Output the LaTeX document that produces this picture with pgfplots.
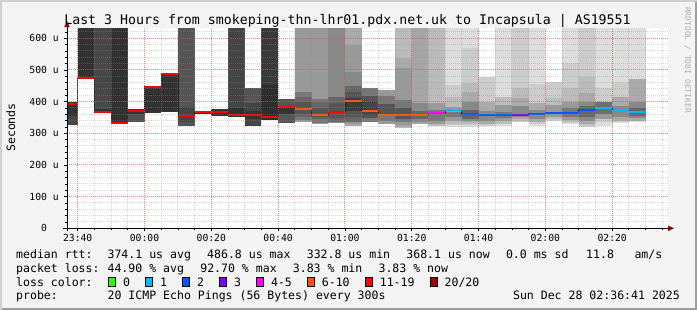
\documentclass[border=0pt]{standalone}
\usepackage{fontspec}
\setmainfont{DejaVu Sans Mono}
\usepackage{pgfplots}
\pgfplotsset{compat=1.18}
\definecolor{bgc}{RGB}{243,243,243}
\definecolor{shadea}{RGB}{207,207,207}
\definecolor{shadeb}{RGB}{158,158,158}
\definecolor{arrowc}{RGB}{140,10,10}
\definecolor{medc}{RGB}{32,32,32}
\definecolor{wmc}{RGB}{175,175,175}
\definecolor{gridc}{RGB}{143,143,143}
\definecolor{mgridc}{RGB}{222,80,80}
\definecolor{lA}{HTML}{26FF00}
\definecolor{lB}{HTML}{00B8FF}
\definecolor{lC}{HTML}{0059FF}
\definecolor{lD}{HTML}{7E00FF}
\definecolor{lE}{HTML}{FF00FF}
\definecolor{lF}{HTML}{FF5500}
\definecolor{lG}{HTML}{FF0000}
\definecolor{lH}{HTML}{A00000}
\newcommand\lf{\fontsize{11.54bp}{13bp}\selectfont}
\newcommand\tf{\fontsize{9.75bp}{11bp}\selectfont}
\newcommand\ttl{\fontsize{13.25bp}{15bp}\selectfont}
% smoke band: x0 x1 low high grey(0-255)
\newcommand\smk[5]{\addplot[fill={rgb,255:red,#5;green,#5;blue,#5},draw=none,forget plot] coordinates {(#1,#3) (#1,#4) (#2,#4) (#2,#3)};}
% median stripe: x0 x1 median colour
\newcommand\med[4]{\addplot[draw=#4,line width=2bp,forget plot] coordinates {(#1,#3) (#2,#3)};}
\begin{document}
\begin{tikzpicture}[x=1bp,y=1bp]
\fill[bgc] (0,0) rectangle (697,310);
\fill[shadea] (0,0) rectangle (2,310);
\fill[shadea] (0,308) rectangle (697,310);
\fill[shadeb] (695,0) rectangle (697,308);
\fill[shadeb] (2,0) rectangle (697,2);
\begin{axis}[
  at={(67bp,81.7bp)}, anchor=south west,
  scale only axis, width=601.3bp, height=200bp,
  xmin=-3.2, xmax=176.8, ymin=0, ymax=631.6,
  axis background/.style={fill=white},
  axis line style={draw=none},
  axis on top,
  tick pos=left, tick align=outside,
  major tick length=3bp, minor tick length=2bp,
  tick style={black, line width=0.8bp},
  xtick={0,20,...,160},
  xticklabels={23:40,00:00,00:20,00:40,01:00,01:20,01:40,02:00,02:20},
  minor xtick={0,5,...,175},
  ytick={0,100,...,600},
  yticklabels={0\phantom{0u},100 u,200 u,300 u,400 u,500 u,600 u},
  minor ytick={20,40,...,620},
  grid=both,
  major grid style={draw=mgridc, draw opacity=0.55, line width=1bp, dash pattern=on 1bp off 1bp},
  minor grid style={draw=gridc, draw opacity=0.35, line width=1bp, dash pattern=on 1bp off 1bp},
  ticklabel style={font=\tf, inner sep=0pt},
  xticklabel style={anchor=north, yshift=-3bp},
  yticklabel style={anchor=east, xshift=-5bp},
]
% --- smoke (low, high, grey) per 5-minute interval ---
\smk{-5}{0}{326}{400}{70}   \smk{-5}{0}{355}{400}{50}
\smk{0}{5}{474}{640}{50}
\smk{5}{10}{366}{640}{72}   \smk{5}{10}{366}{378}{50}
\smk{10}{15}{331}{640}{50}
\smk{15}{20}{337}{377}{80}  \smk{15}{20}{362}{377}{50}
\smk{20}{25}{365}{449}{50}
\smk{25}{30}{368}{488}{50}
\smk{30}{35}{324}{640}{85}  \smk{30}{35}{335}{384}{68}
\smk{35}{40}{361}{370}{50}
\smk{40}{45}{355}{376}{50}
\smk{45}{50}{352}{640}{68}  \smk{45}{50}{352}{379}{48}
\smk{50}{55}{324}{444}{85}  \smk{50}{55}{324}{395}{68}  \smk{50}{55}{345}{372}{52}
\smk{55}{60}{342}{640}{58}  \smk{55}{60}{342}{452}{46}
\smk{60}{65}{331}{407}{85}  \smk{60}{65}{362}{386}{52}
\smk{65}{70}{337}{640}{153} \smk{65}{70}{343}{431}{119} \smk{65}{70}{352}{416}{102} \smk{65}{70}{362}{400}{85}
\smk{70}{75}{330}{640}{153} \smk{70}{75}{331}{408}{119} \smk{70}{75}{345}{398}{102} \smk{70}{75}{352}{380}{85}
\smk{75}{80}{333}{640}{136} \smk{75}{80}{335}{416}{102} \smk{75}{80}{348}{395}{85}
\smk{80}{85}{324}{640}{170} \smk{80}{85}{330}{579}{153} \smk{80}{85}{335}{494}{136} \smk{80}{85}{337}{449}{102} \smk{80}{85}{350}{430}{85} \smk{80}{85}{370}{410}{60}
\smk{85}{90}{337}{444}{119} \smk{85}{90}{347}{419}{85}  \smk{85}{90}{359}{401}{68}
\smk{90}{95}{330}{437}{153} \smk{90}{95}{340}{418}{119} \smk{90}{95}{354}{393}{85}
\smk{95}{100}{316}{640}{187} \smk{95}{100}{320}{539}{170} \smk{95}{100}{325}{505}{153} \smk{95}{100}{335}{405}{119} \smk{95}{100}{345}{380}{85}
\smk{100}{105}{328}{640}{165} \smk{100}{105}{335}{395}{136} \smk{100}{105}{345}{370}{102}
\smk{105}{110}{324}{640}{187} \smk{105}{110}{330}{395}{153} \smk{105}{110}{340}{375}{119}
\smk{110}{115}{321}{640}{221} \smk{110}{115}{326}{452}{204} \smk{110}{115}{330}{416}{187} \smk{110}{115}{340}{384}{153} \smk{110}{115}{350}{368}{119}
\smk{115}{120}{321}{640}{221} \smk{115}{120}{325}{568}{204} \smk{115}{120}{330}{458}{187} \smk{115}{120}{335}{431}{170} \smk{115}{120}{340}{400}{136} \smk{115}{120}{345}{375}{102}
\smk{120}{125}{324}{479}{204} \smk{120}{125}{330}{400}{170} \smk{120}{125}{340}{372}{136}
\smk{125}{130}{324}{640}{221} \smk{125}{130}{330}{416}{187} \smk{125}{130}{340}{390}{153} \smk{125}{130}{348}{368}{119}
\smk{130}{135}{337}{640}{204} \smk{130}{135}{340}{442}{187} \smk{130}{135}{345}{410}{170} \smk{130}{135}{350}{385}{136}
\smk{135}{140}{324}{640}{221} \smk{135}{140}{330}{455}{204} \smk{135}{140}{337}{395}{170} \smk{135}{140}{345}{375}{136}
\smk{140}{145}{340}{463}{204} \smk{140}{145}{345}{410}{187} \smk{140}{145}{350}{390}{153}
\smk{145}{150}{330}{640}{221} \smk{145}{150}{333}{521}{204} \smk{145}{150}{337}{442}{187} \smk{145}{150}{342}{400}{153} \smk{145}{150}{350}{380}{119}
\smk{150}{155}{321}{640}{204} \smk{150}{155}{325}{479}{187} \smk{150}{155}{330}{426}{170} \smk{150}{155}{340}{400}{136} \smk{150}{155}{350}{385}{102}
\smk{155}{160}{324}{640}{221} \smk{155}{160}{335}{442}{204} \smk{155}{160}{345}{400}{153} \smk{155}{160}{362}{400}{110}
\smk{160}{165}{331}{640}{221} \smk{160}{165}{335}{463}{204} \smk{160}{165}{340}{416}{170} \smk{160}{165}{350}{385}{136}
\smk{165}{170}{335}{640}{221} \smk{165}{170}{340}{471}{170} \smk{165}{170}{348}{400}{136} \smk{165}{170}{355}{380}{102}
% --- median line ---
\addplot[const plot, draw=medc, line width=0.8bp, forget plot] coordinates {
(-5,392.5) (0,474) (5,368) (10,333) (15,371) (20,447) (25,487) (30,356) (35,366) (40,368)
(45,358) (50,357) (55,350.5) (60,382) (65,378) (70,358) (75,368) (80,402) (85,371) (90,359)
(95,357) (100,359) (105,364) (110,375) (115,361) (120,357) (125,358) (130,358) (135,362) (140,364)
(145,364) (150,375) (155,379) (160,371.5) (165,368) (170,368)};
% --- median coloured by loss ---
\med{-5}{0}{392.5}{lG} \med{0}{5}{474}{lG} \med{5}{10}{368}{lG} \med{10}{15}{333}{lG}
\med{15}{20}{371}{lG} \med{20}{25}{447}{lG} \med{25}{30}{487}{lG} \med{30}{35}{356}{lG}
\med{35}{40}{366}{lG} \med{40}{45}{368}{lG} \med{45}{50}{358}{lG} \med{50}{55}{357}{lG}
\med{55}{60}{350.5}{lG} \med{60}{65}{382}{lG} \med{65}{70}{378}{lF} \med{70}{75}{358}{lF}
\med{75}{80}{368}{lG} \med{80}{85}{402}{lF} \med{85}{90}{371}{lF} \med{90}{95}{359}{lF}
\med{95}{100}{357}{lF} \med{100}{105}{359}{lF} \med{105}{110}{364}{lE} \med{110}{115}{375}{lB}
\med{115}{120}{361}{lC} \med{120}{125}{357}{lC} \med{125}{130}{358}{lC} \med{130}{135}{358}{lD}
\med{135}{140}{362}{lC} \med{140}{145}{364}{lC} \med{145}{150}{364}{lC} \med{150}{155}{375}{lC}
\med{155}{160}{379}{lB} \med{160}{165}{371.5}{lB} \med{165}{170}{368}{lB}
\end{axis}
% axis lines and arrows
\draw[line width=1bp] (62.5,81.7) -- (669,81.7);
\fill[arrowc] (668,84.5) -- (674,81.7) -- (668,78.9) -- cycle;
\draw[line width=1bp] (67,79) -- (67,283);
\fill[arrowc] (64.2,283) -- (67,289) -- (69.8,283) -- cycle;
% texts
\node[anchor=base, font=\ttl, inner sep=0pt] at (347.5,286) {Last 3 Hours from smokeping-thn-lhr01.pdx.net.uk to Incapsula | AS19551};
\node[anchor=base, font=\lf, rotate=90, inner sep=0pt] at (15,182.5) {Seconds};
\node[rotate=-90, font=\fontsize{8bp}{9bp}\selectfont, text=wmc, inner sep=0pt] at (687.7,250) {RRDTOOL / TOBI OETIKER};
\begin{scope}[every node/.style={anchor=base west, font=\lf, inner sep=0pt}]
\node at (16,51.5) {median rtt:};
\node at (107.4,51.5) {374.1 us avg};
\node at (207,51.5) {486.8 us max};
\node at (306.6,51.5) {332.8 us min};
\node at (406.2,51.5) {368.1 us now};
\node at (505.8,51.5) {0.0 ms sd};
\node at (586,51.5) {11.8};
\node at (634.3,51.5) {am/s};
\node at (16,37.8) {packet loss:};
\node at (107.4,37.8) {44.90 \% avg};
\node at (200.1,37.8) {92.70 \% max};
\node at (292.7,37.8) {3.83 \% min};
\node at (378.4,37.8) {3.83 \% now};
\node at (16,24) {loss color:};
\node at (122.8,24) {0};
\node at (159.8,24) {1};
\node at (196.8,24) {2};
\node at (233.8,24) {3};
\node at (270.8,24) {4-5};
\node at (321.7,24) {6-10};
\node at (379.6,24) {11-19};
\node at (444.4,24) {20/20};
\node at (16,10.3) {probe:};
\node at (107.4,10.3) {20 ICMP Echo Pings (56 Bytes) every 300s};
\end{scope}
\node[anchor=base east, font=\lf, inner sep=0pt] at (680,10.3) {Sun Dec 28 02:36:41 2025};
\begin{scope}[line width=0.8bp, draw=black]
\filldraw[fill=lA] (108.3,24) rectangle (115.6,32.5);
\filldraw[fill=lB] (145.3,24) rectangle (152.6,32.5);
\filldraw[fill=lC] (182.3,24) rectangle (189.6,32.5);
\filldraw[fill=lD] (219.3,24) rectangle (226.6,32.5);
\filldraw[fill=lE] (256.3,24) rectangle (263.6,32.5);
\filldraw[fill=lF] (307.2,24) rectangle (314.5,32.5);
\filldraw[fill=lG] (365.1,24) rectangle (372.4,32.5);
\filldraw[fill=lH] (429.9,24) rectangle (437.2,32.5);
\end{scope}
\pgfresetboundingbox
\useasboundingbox (0,0) rectangle (697,310);
\end{tikzpicture}
\end{document}
